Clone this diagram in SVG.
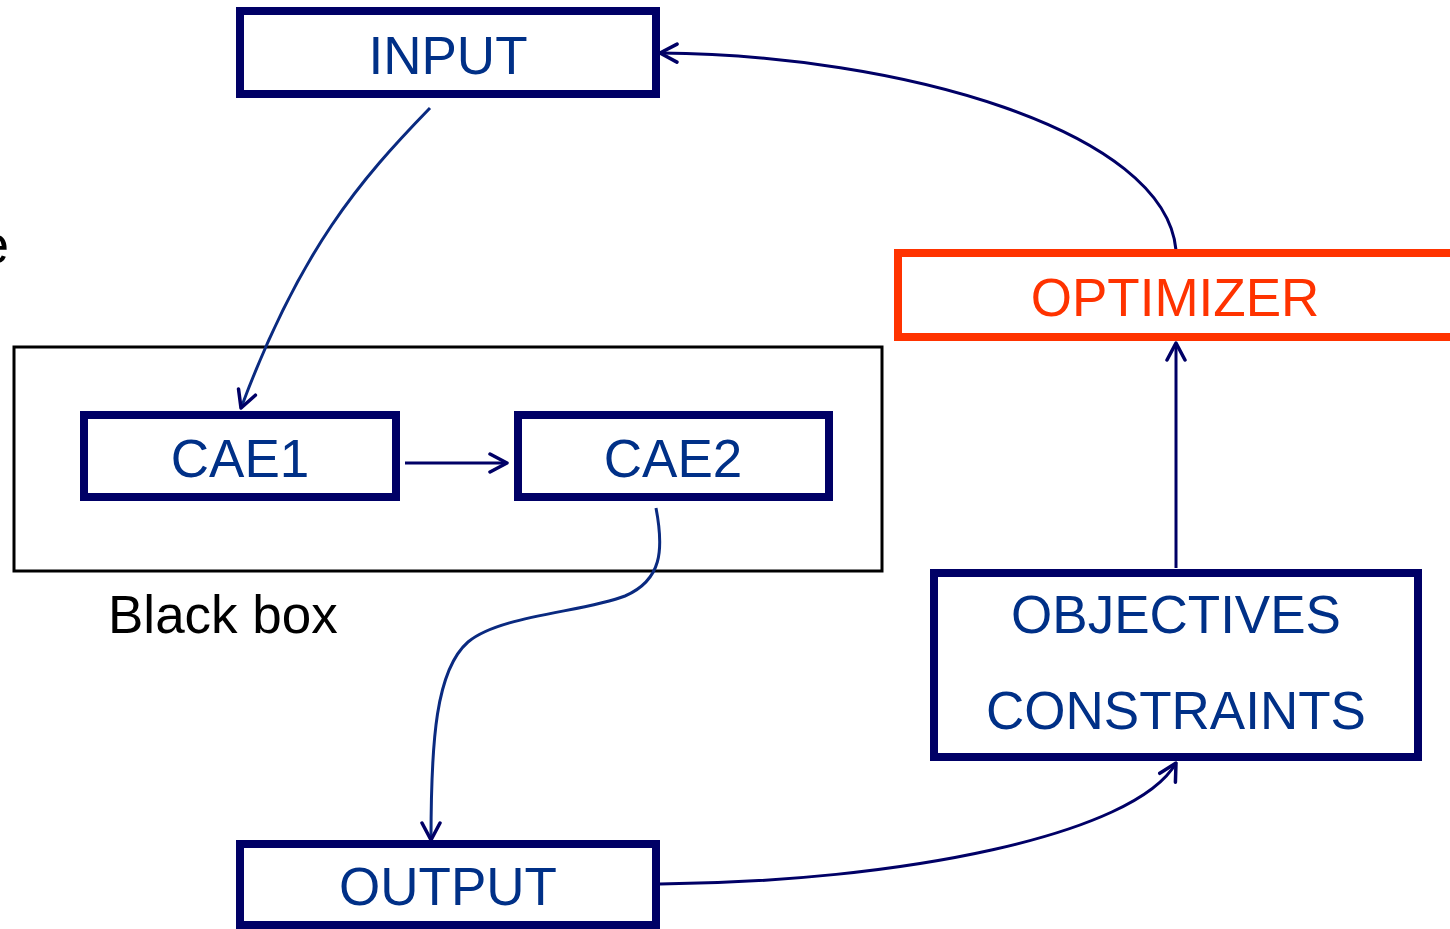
<svg xmlns="http://www.w3.org/2000/svg" width="1450" height="929" viewBox="0 0 1450 929">
  <style>
    .box { fill: #ffffff; stroke: #000066; stroke-width: 8; }
    .opt { fill: #ffffff; stroke: #ff3300; stroke-width: 8; }
    .frame { fill: none; stroke: #000000; stroke-width: 3; }
    .lbl { font-family: "Liberation Sans", Arial, sans-serif; font-size: 53px; fill: #003087; text-anchor: middle; }
    .optlbl { fill: #ff3300; }
    .plain { font-family: "Liberation Sans", Arial, sans-serif; font-size: 53px; fill: #000000; }
    .wire { fill: none; stroke: #000066; stroke-width: 3; marker-end: url(#head); }
    .wire2 { stroke: #0a2a80; }
  </style>
  <defs>
    <marker id="head" viewBox="-21 -12 23 24" refX="0" refY="0" markerWidth="23" markerHeight="24" markerUnits="userSpaceOnUse" orient="auto">
      <path d="M-17,-9 L0,0 L-17,9" fill="none" stroke="#000066" stroke-width="3.5" stroke-linecap="round" stroke-linejoin="round"/>
    </marker>
  </defs>

  <text class="plain" x="9" y="263" text-anchor="end">e</text>

  <g id="blackbox">
    <rect class="frame" x="14" y="347" width="868" height="224"/>
    <text class="plain" x="108" y="633">Black box</text>
  </g>

  <g id="connectors">
    <path class="wire wire2" d="M430,108 C360,180 300,250 241,408"/>
    <path class="wire" d="M405,463 L507,463"/>
    <path class="wire wire2" d="M656,508 C664,550 662,580 625,596 C585,612 500,615 468,642 C436,670 431,740 431,840"/>
    <path class="wire" d="M660,884 C900,882 1135,835 1176,763"/>
    <path class="wire" d="M1176,568 L1176,343"/>
    <path class="wire" d="M1176,250 C1165,130 900,55 660,53"/>
  </g>

  <g id="input">
    <rect class="box" x="240" y="11" width="416" height="83"/>
    <text class="lbl" x="448" y="74">INPUT</text>
  </g>

  <g id="optimizer">
    <rect class="opt" x="898" y="253" width="560" height="84"/>
    <text class="lbl optlbl" x="1175" y="316">OPTIMIZER</text>
  </g>

  <g id="cae1">
    <rect class="box" x="84" y="415" width="312" height="82"/>
    <text class="lbl" x="240" y="477">CAE1</text>
  </g>

  <g id="cae2">
    <rect class="box" x="518" y="415" width="311" height="82"/>
    <text class="lbl" x="673" y="477">CAE2</text>
  </g>

  <g id="objectives">
    <rect class="box" x="934" y="573" width="484" height="184"/>
    <text class="lbl" x="1176" y="633">OBJECTIVES</text>
    <text class="lbl" x="1176" y="729">CONSTRAINTS</text>
  </g>

  <g id="output">
    <rect class="box" x="240" y="844" width="416" height="81"/>
    <text class="lbl" x="448" y="905">OUTPUT</text>
  </g>
</svg>
